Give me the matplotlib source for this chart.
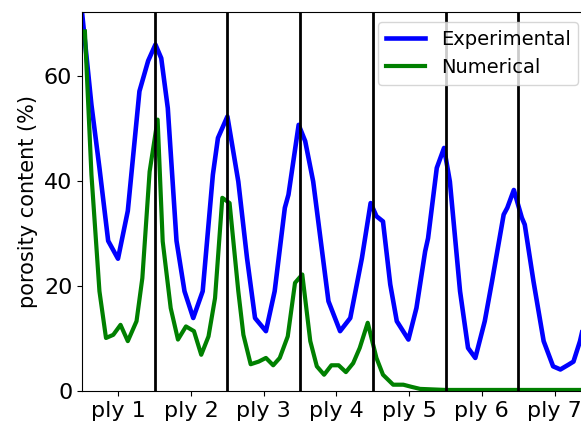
import matplotlib
matplotlib.use("Agg")
import matplotlib.pyplot as plt

# ---------------------------------------------------------------------------
# DATA
# ---------------------------------------------------------------------------
expX = [0.0, 0.13, 0.24, 0.36, 0.495, 0.63, 0.79, 0.91, 1.01, 1.09, 1.18, 1.30,
        1.41, 1.53, 1.66, 1.80, 1.87, 2.0, 2.15, 2.27, 2.38, 2.53, 2.65, 2.79,
        2.84, 2.98, 3.07, 3.18, 3.39, 3.55, 3.69, 3.85, 3.97, 4.05, 4.14, 4.24,
        4.33, 4.49, 4.60, 4.72, 4.76, 4.88, 4.98, 5.06, 5.20, 5.31, 5.41, 5.54,
        5.64, 5.80, 5.85, 5.94, 6.05, 6.09, 6.21, 6.35, 6.48, 6.58, 6.69, 6.76,
        6.85, 6.95]
expY = [72.2, 54.5, 42.5, 28.6, 25.2, 34.3, 57.1, 62.9, 66.0, 63.4, 53.9, 28.6,
        19.0, 13.9, 19.0, 41.2, 48.2, 52.3, 39.9, 25.3, 13.9, 11.4, 19.0, 34.9,
        37.4, 50.7, 47.6, 39.9, 17.1, 11.4, 13.9, 25.3, 35.8, 33.3, 32.3, 20.3,
        13.3, 9.8, 15.8, 26.6, 29.1, 42.5, 46.3, 39.9, 19.0, 8.2, 6.3, 13.3,
        20.9, 33.6, 34.9, 38.3, 33.0, 31.7, 20.9, 9.5, 4.7, 4.1, 5.0, 5.6,
        9.5, 15.5]

numX = [0.04, 0.13, 0.24, 0.33, 0.43, 0.53, 0.63, 0.75, 0.83, 0.93, 1.04, 1.11,
        1.22, 1.32, 1.43, 1.54, 1.64, 1.74, 1.83, 1.93, 2.03, 2.15, 2.22, 2.32,
        2.43, 2.53, 2.63, 2.72, 2.83, 2.93, 3.03, 3.14, 3.23, 3.33, 3.43, 3.53,
        3.63, 3.73, 3.82, 3.93, 4.05, 4.14, 4.28, 4.42, 4.53, 4.65, 5.0, 6.0,
        6.95]
numY = [68.5, 41.2, 19.0, 10.1, 10.7, 12.6, 9.5, 13.3, 21.5, 41.8, 51.7, 28.5,
        15.8, 9.8, 12.3, 11.4, 6.9, 10.4, 17.7, 36.8, 35.8, 19.0, 10.7, 5.1,
        5.6, 6.3, 4.9, 6.3, 10.4, 20.6, 22.2, 9.5, 4.7, 3.1, 4.9, 4.9,
        3.6, 5.3, 8.2, 13.0, 6.3, 3.1, 1.2, 1.2, 0.8, 0.4, 0.2, 0.2,
        0.2]

plyBounds = [1, 2, 3, 4, 5, 6]
plyTicks = [0.5, 1.5, 2.5, 3.5, 4.5, 5.5, 6.5]
plyLabels = ["ply 1", "ply 2", "ply 3", "ply 4", "ply 5", "ply 6", "ply 7"]
yTicks = [0, 20, 40, 60]

# ---------------------------------------------------------------------------
# PLOT
# ---------------------------------------------------------------------------
fig = plt.figure(figsize=(5.81, 4.25), dpi=100)
ax = fig.add_axes([82 / 581, 34 / 425, (588 - 82) / 581, 379 / 425])

ax.plot(expX, expY, c="blue", lw=3.3, label="Experimental", solid_joinstyle="round")
ax.plot(numX, numY, c="green", lw=3, label="Numerical", solid_joinstyle="round")
for b in plyBounds:
	ax.axvline(b, c="black", lw=2)

ax.set_xlim(0, 6.96)
ax.set_ylim(0, 72.2)
ax.set_xticks(plyTicks)
ax.set_xticklabels(plyLabels)
ax.set_yticks(yTicks)
ax.tick_params(labelsize=16)
ax.set_ylabel("porosity content (%)", fontsize=15)
ax.legend(loc="upper right", fontsize=14)

fig.savefig("out.png", dpi=100)
